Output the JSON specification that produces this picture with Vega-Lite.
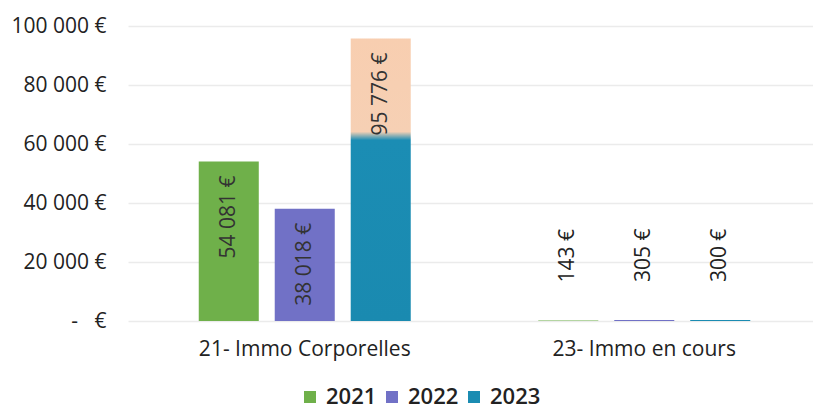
{
  "$schema": "https://vega.github.io/schema/vega-lite/v6.json",
  "width": 685,
  "height": 295,
  "autosize": "none",
  "padding": {"left": 128, "top": 26, "right": 0, "bottom": 91},
  "background": "white",
  "config": {
    "locale": {"number": {"decimal": ",", "thousands": " ", "grouping": [3], "currency": ["", " €"]}},
    "font": "Open Sans",
    "view": {"stroke": null}
  },
  "data": {
    "values": [
      {"category": "21- Immo Corporelles", "year": "2021", "value": 54081},
      {"category": "21- Immo Corporelles", "year": "2022", "value": 38018},
      {"category": "21- Immo Corporelles", "year": "2023", "value": 95776},
      {"category": "23- Immo en cours", "year": "2021", "value": 143},
      {"category": "23- Immo en cours", "year": "2022", "value": 305},
      {"category": "23- Immo en cours", "year": "2023", "value": 300}
    ]
  },
  "encoding": {
    "x": {
      "field": "category", "type": "nominal",
      "scale": {"paddingInner": 0.3756, "paddingOuter": 0.1966, "align": 0.53},
      "axis": {"title": null, "labelAngle": 0, "labelFontSize": 21, "labelColor": "#222", "domain": false, "ticks": false, "labelPadding": 17, "labelLimit": 0}
    },
    "xOffset": {"field": "year", "type": "nominal", "scale": {"paddingInner": 0.21, "paddingOuter": 0}},
    "y": {
      "field": "value", "type": "quantitative",
      "scale": {"domain": [0, 100000], "nice": false},
      "axis": {"title": null, "values": [0, 20000, 40000, 60000, 80000, 100000], "format": "$,.0f",
        "labelExpr": "datum.value == 0 ? '-\u00a0\u00a0\u00a0€' : datum.label",
        "labelOverlap": false,
        "labelFontSize": 21, "labelColor": "#222", "domain": false, "ticks": false, "labelPadding": 22,
        "gridColor": "#ebebeb", "gridWidth": 1.5}
    }
  },
  "layer": [
    {
      "transform": [{"filter": "!(datum.year == '2023' && datum.value > 1000)"}],
      "mark": {"type": "bar"},
      "encoding": {
        "color": {
          "field": "year", "type": "nominal",
          "scale": {"domain": ["2021", "2022", "2023"], "range": ["#6fb04a", "#7171c6", "#1b8cb2"]},
          "legend": {"title": null, "orient": "none", "legendX": 171, "legendY": 360, "direction": "horizontal", "symbolType": "square", "symbolSize": 144, "symbolStrokeWidth": 0, "labelFontSize": 22, "labelFontWeight": 600, "labelColor": "#222", "columnPadding": 4, "symbolOpacity": 1, "labelOffset": 5, "padding": 0}
        }
      }
    },
    {
      "transform": [{"filter": "datum.year == '2023' && datum.value > 1000"}],
      "mark": {"type": "bar", "color": {"gradient": "linear", "x1": 0, "y1": 0, "x2": 0, "y2": 1,
        "stops": [{"offset": 0, "color": "#f8ceb0"}, {"offset": 0.33, "color": "#f6d0b4"}, {"offset": 0.36, "color": "#1b8db4"}, {"offset": 1, "color": "#1a8ab0"}]}}
    },
    {
      "transform": [{"filter": "datum.value > 1000"}],
      "mark": {"type": "text", "angle": 270, "align": "right", "baseline": "middle", "dx": -14, "fontSize": 21, "color": "#333"},
      "encoding": {"text": {"field": "value", "type": "quantitative", "format": "$,.0f"}}
    },
    {
      "transform": [{"filter": "datum.value <= 1000"}],
      "mark": {"type": "text", "angle": 270, "align": "left", "baseline": "middle", "dx": 38, "fontSize": 21, "color": "#222"},
      "encoding": {"text": {"field": "value", "type": "quantitative", "format": "$,.0f"}}
    }
  ]
}
